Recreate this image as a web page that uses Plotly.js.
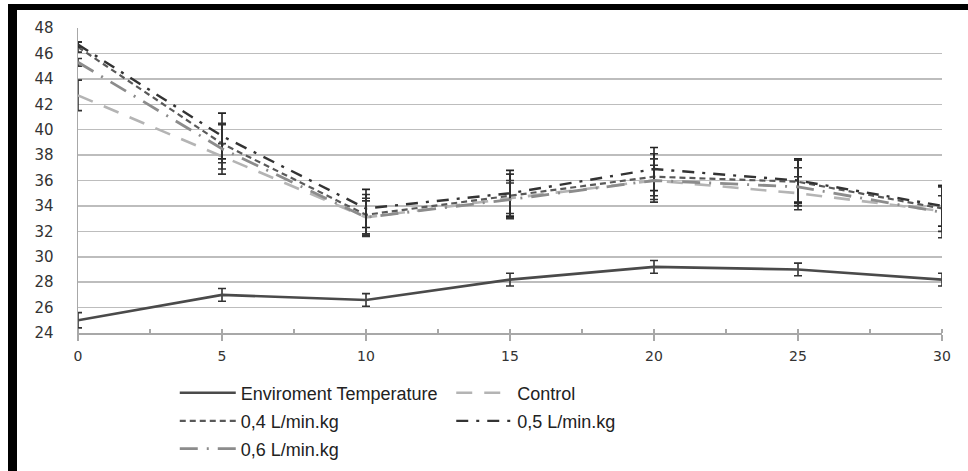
<!DOCTYPE html>
<html>
<head>
<meta charset="utf-8">
<script src="https://cdn.plot.ly/plotly-3.0.1.min.js"></script>
<style>
  html, body { margin: 0; padding: 0; background: #fff; }
  #wrap { position: relative; width: 968px; height: 471px; overflow: hidden; }
  #chart { width: 968px; height: 471px; }
  #bl { position: absolute; left: 8px; top: 4px; width: 9px; height: 467px; background: #000; }
  #bt { position: absolute; left: 8px; top: 4px; width: 960px; height: 6px; background: #000; }
</style>
</head>
<body>
<div id="wrap">
  <div id="chart"></div>
  <div id="bl"></div>
  <div id="bt"></div>
</div>
<script>
const timeMin = [0, 5, 10, 15, 20, 25, 30];

const envTemp   = [25.0, 27.0, 26.6, 28.2, 29.2, 29.0, 28.2];
const envErr    = [0.6, 0.5, 0.5, 0.5, 0.5, 0.5, 0.5];

const control    = [42.7, 37.9, 33.1, 34.6, 36.0, 35.0, 33.6];
const controlErr = [1.2, 1.0, 1.3, 1.2, 1.2, 1.3, 1.2];

const flow04    = [46.5, 38.9, 33.3, 34.8, 36.3, 35.9, 33.8];
const flow04Err = [0.4, 1.5, 1.6, 1.7, 1.8, 1.7, 1.8];

const flow05    = [46.7, 39.5, 33.8, 35.0, 36.9, 36.0, 34.0];
const flow05Err = [0.2, 1.8, 1.5, 1.8, 1.7, 1.7, 1.6];

const flow06    = [45.3, 38.5, 33.1, 34.5, 36.0, 35.5, 33.5];
const flow06Err = [0.3, 2.0, 1.5, 1.5, 1.7, 1.5, 2.0];

const yTicks = [24, 26, 28, 30, 32, 34, 36, 38, 40, 42, 44, 46, 48];
const xTicks = [0, 5, 10, 15, 20, 25, 30];

function err(arr, color) {
  return { type: 'data', array: arr, visible: true, color: color, thickness: 1.6, width: 4 };
}

const traces = [
  { x: timeMin, y: envTemp, name: 'Enviroment Temperature', mode: 'lines',
    line: { color: '#4a4a4a', width: 2.6 }, error_y: err(envErr, '#333'), legend: 'legend' },
  { x: timeMin, y: control, name: 'Control', mode: 'lines',
    line: { color: '#b4b4b4', width: 2.6, dash: '16px,12px' }, error_y: err(controlErr, '#333'), legend: 'legend2' },
  { x: timeMin, y: flow04, name: '0,4 L/min.kg', mode: 'lines',
    line: { color: '#595959', width: 2.2, dash: '6px,4px' }, error_y: err(flow04Err, '#333'), legend: 'legend3' },
  { x: timeMin, y: flow05, name: '0,5 L/min.kg', mode: 'lines',
    line: { color: '#333333', width: 2.4, dash: '12px,8px,3px,8px' }, error_y: err(flow05Err, '#222'), legend: 'legend4' },
  { x: timeMin, y: flow06, name: '0,6 L/min.kg', mode: 'lines',
    line: { color: '#8c8c8c', width: 2.8, dash: '18px,9px,2px,9px' }, error_y: err(flow06Err, '#333'), legend: 'legend5' }
];

const legendFont = { family: 'Liberation Sans, Arial, sans-serif', size: 18, color: '#222' };
function leg(x, y) {
  return { x: x, xanchor: 'left', y: y, yanchor: 'middle', orientation: 'v',
           font: legendFont, bgcolor: 'rgba(0,0,0,0)', tracegroupgap: 0, itemwidth: 56 };
}

const layout = {
  width: 968, height: 471,
  margin: { l: 78, r: 26, t: 28, b: 138, autoexpand: false },
  paper_bgcolor: '#fff', plot_bgcolor: '#fff',
  showlegend: true,
  xaxis: {
    range: [0, 30], tickvals: xTicks, ticktext: xTicks.map(String),
    showgrid: false, zeroline: false,
    showline: true, linecolor: '#a8a8a8', linewidth: 1.5,
    ticks: 'outside', ticklen: 6, tickcolor: '#a8a8a8', tickwidth: 1.5,
    ticklabelstandoff: 4,
    minor: { dtick: 2.5, tick0: 0, ticks: 'inside', ticklen: 4, tickcolor: '#a8a8a8', tickwidth: 1.2, showgrid: false },
    tickfont: { family: 'DejaVu Sans, Verdana, sans-serif', size: 14, color: '#333' },
    fixedrange: true, automargin: false
  },
  yaxis: {
    range: [24, 48], tickvals: yTicks, ticktext: yTicks.map(String),
    showgrid: true, gridcolor: '#bdbdbd', gridwidth: 1.5,
    zeroline: false, showline: true, linecolor: '#a8a8a8', linewidth: 1.5,
    ticks: '', ticklabelstandoff: 20,
    tickfont: { family: 'DejaVu Sans, Verdana, sans-serif', size: 15, color: '#333' },
    fixedrange: true, automargin: false
  },
  legend:  leg(0.112, -0.197),
  legend2: leg(0.432, -0.197),
  legend3: leg(0.112, -0.289),
  legend4: leg(0.432, -0.289),
  legend5: leg(0.112, -0.380)
};

Plotly.newPlot('chart', traces, layout, { staticPlot: true, displayModeBar: false });
</script>
</body>
</html>
